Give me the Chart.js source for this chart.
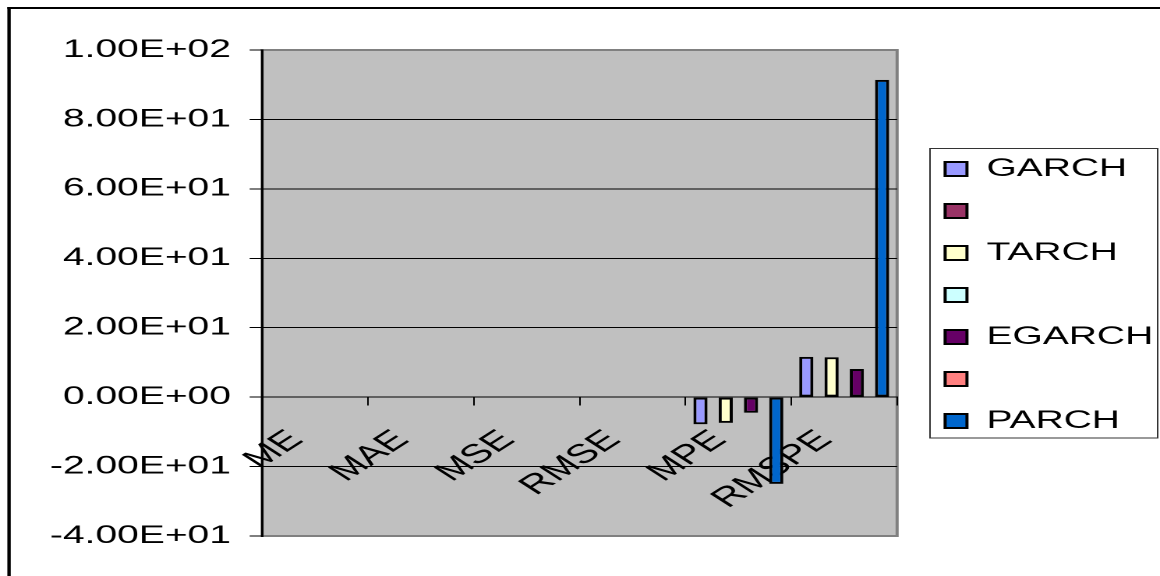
<!DOCTYPE html>
<html>
<head>
<meta charset="utf-8">
<script src="https://cdn.jsdelivr.net/npm/chart.js@4.4.1/dist/chart.umd.min.js"></script>
<style>
  html, body { margin: 0; padding: 0; background: #fff; overflow: hidden; }
  /* the reference is a horizontally stretched Excel chart, so the canvas is drawn narrow and stretched */
  #wrap { position: absolute; left: 0; top: 0; width: 744px; height: 576px;
          transform: scaleX(1.5591); transform-origin: 0 0; }
</style>
</head>
<body>
<div id="wrap"><canvas id="chart" width="744" height="576"></canvas></div>
<script>
// categories and series values
const categories = ["ME", "MAE", "MSE", "RMSE", "MPE", "RMSPE"];
const garch  = [0, 0, 0, 0, -7.8, 11.6];
const tarch  = [0, 0, 0, 0, -7.4, 11.5];
const egarch = [0, 0, 0, 0, -4.5, 8.1];
const parch  = [0, 0, 0, 0, -25.0, 91.4];
const empty  = [null, null, null, null, null, null];

const seriesNames  = ["GARCH", "", "TARCH", "", "EGARCH", "", "PARCH"];
const seriesData   = [garch, empty, tarch, empty, egarch, empty, parch];
const seriesColors = ["#9999ff", "#993366", "#ffffcc", "#ccffff", "#660066", "#ff8080", "#0066cc"];

const yMin = -40, yMax = 100, yStep = 20;

const font = { family: "'Liberation Sans', Arial, sans-serif", size: 25 };

// 8.00E+01 style labels
function sci(v) {
    const parts = Number(v).toExponential(2).split("e");
    const n = parseInt(parts[1], 10);
    return parts[0] + "E" + (n < 0 ? "-" : "+") + String(Math.abs(n)).padStart(2, "0");
}

const plotFrame = {
    id: "plotFrame",
    afterLayout(chart) {
        // leave a gap between the plot area and the legend, like Excel does
        const lg = chart.legend;
        lg.left += 13.8;
        lg.right += 13.8;
        lg.top += 2;
        lg.bottom += 2;
    },
    beforeDraw(chart) {
        const { ctx, chartArea: a } = chart;
        ctx.save();
        ctx.fillStyle = "#fff";
        ctx.fillRect(0, 0, chart.width, chart.height);
        // outer frame (only top and left edges are inside the picture)
        ctx.fillStyle = "#000";
        ctx.fillRect(4.7, 7, 2.2, chart.height);
        ctx.fillRect(4.7, 7, chart.width, 2);
        // gray plot area
        ctx.fillStyle = "#c0c0c0";
        ctx.fillRect(a.left, a.top, a.right - a.left, a.bottom - a.top);
        ctx.strokeStyle = "#808080";
        ctx.lineWidth = 2;
        ctx.strokeRect(a.left, a.top, a.right - a.left, a.bottom - a.top);
        ctx.restore();
    },
    afterDraw(chart) {
        // box round the legend
        const lg = chart.legend;
        const hb = lg.legendHitBoxes;
        if (!hb || !hb.length) return;
        const last = hb[hb.length - 1];
        const top = hb[0].top - 8;
        const bottom = last.top + last.height + 4.5;
        const left = lg.left + 7.3;
        const right = chart.width - 1.5;
        const ctx = chart.ctx;
        ctx.save();
        ctx.strokeStyle = "#333";
        ctx.lineWidth = 1;
        ctx.strokeRect(left, top, right - left, bottom - top);
        ctx.restore();
    }
};

new Chart(document.getElementById("chart"), {
    type: "bar",
    data: {
        labels: categories,
        datasets: seriesNames.map((name, i) => ({
            label: name,
            data: seriesData[i],
            backgroundColor: seriesColors[i],
            borderColor: "#000",
            borderWidth: 2,
            borderSkipped: false,
            skipNull: true,
            categoryPercentage: 0.955,
            barPercentage: 0.56
        }))
    },
    options: {
        responsive: false,
        animation: false,
        devicePixelRatio: 2,
        layout: { padding: { left: 0, top: 50, bottom: 40, right: 18.6 } },
        plugins: {
            tooltip: { enabled: false },
            legend: {
                position: "right",
                maxWidth: 150,
                labels: {
                    boxWidth: 14,
                    boxHeight: 14,
                    padding: 17,
                    color: "#000",
                    font: font
                }
            }
        },
        scales: {
            x: {
                position: { y: 0 },
                z: 1,
                offset: true,
                grid: {
                    offset: true,
                    drawOnChartArea: false,
                    drawTicks: true,
                    tickLength: 8,
                    tickColor: "#000",
                    tickWidth: 1
                },
                border: { display: true, color: "#000", width: 1 },
                ticks: {
                    autoSkip: false,
                    minRotation: 45,
                    maxRotation: 45,
                    padding: 19,
                    labelOffset: -12,
                    color: "#000",
                    font: { family: font.family, size: 27 }
                }
            },
            y: {
                min: yMin,
                max: yMax,
                afterFit: (scale) => { scale.width = 168.1; },
                grid: {
                    color: (c) => (c.tick && (c.tick.value === yMax || c.tick.value === yMin)) ? "#808080" : "#000",
                    lineWidth: (c) => (c.tick && (c.tick.value === yMax || c.tick.value === yMin)) ? 2 : 1,
                    tickLength: 8,
                    tickColor: "#000",
                    tickWidth: 1
                },
                border: { display: true, color: "#000", width: 1.5 },
                ticks: {
                    stepSize: yStep,
                    padding: 12,
                    color: "#000",
                    font: font,
                    callback: (v) => sci(v)
                }
            }
        }
    },
    plugins: [plotFrame]
});
</script>
</body>
</html>
